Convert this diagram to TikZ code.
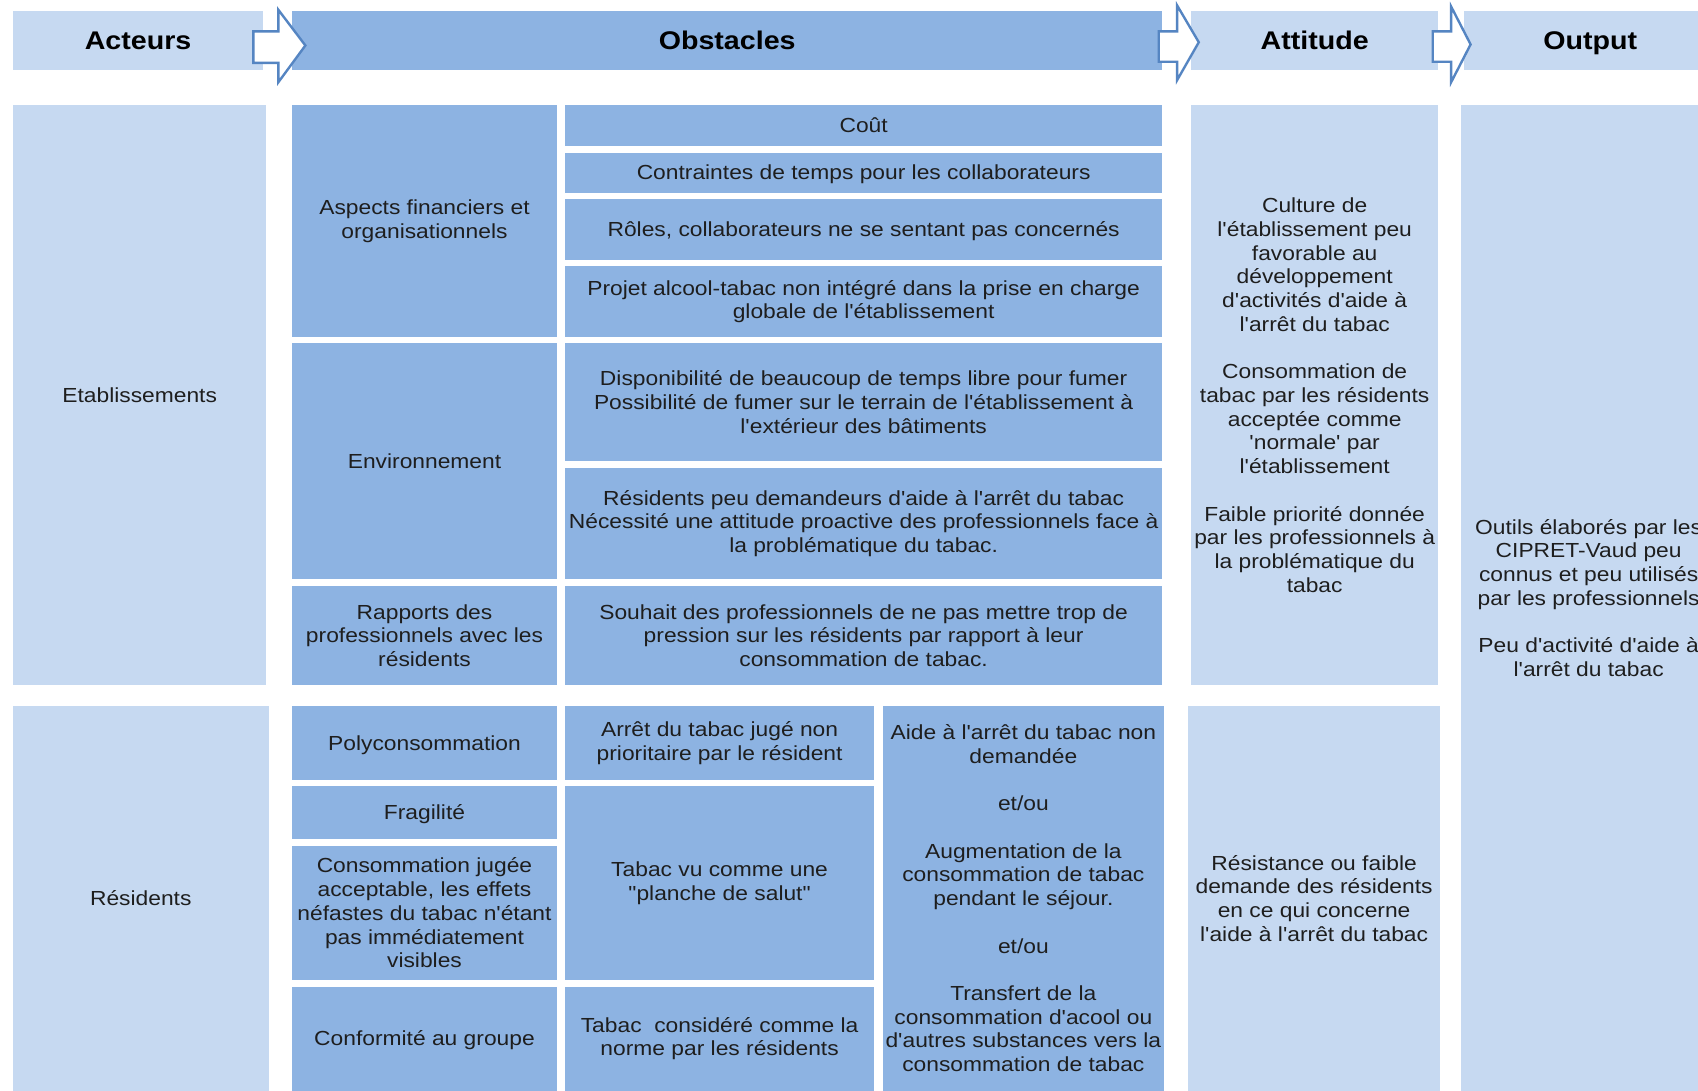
\documentclass[tikz,border=0pt]{standalone}
\usepackage{fontspec}
\setmainfont{Liberation Sans}[Ligatures=TeXOff,FakeStretch=1.12]
\definecolor{lightb}{HTML}{C6D9F1}
\definecolor{darkb}{HTML}{8DB3E2}
\definecolor{arrowc}{HTML}{5585C2}
\definecolor{textc}{HTML}{1E1E1E}
\newcommand\mybox[8][txt]{%
  \fill[#3] (#4,#5) rectangle (#6,#7);
  \node[#1] (#2) at ({(#4+#6)/2},{(#5+#7)/2}) {#8};}
\newcommand\gap{\\[10.95pt]}
\begin{document}
\begin{tikzpicture}[x=0.5pt,y=-0.5pt,
  txt/.style={font=\fontsize{9.4}{10.95}\selectfont, align=center, text=textc, inner sep=0pt},
  one/.style={txt, text height=8.6pt, text depth=2pt},
  hdr/.style={font=\fontsize{11.8}{14}\selectfont\bfseries, align=center, text=black, inner sep=0pt, text height=10.5pt, text depth=2.4pt},
  arr/.style={fill=white, draw=arrowc, line width=1.1pt, line join=miter}]
\useasboundingbox (0,0) rectangle (1568,1007);
\clip (0,0) rectangle (1568,1007);
\fill[white] (0,0) rectangle (1568,1007);
% header
\mybox[hdr]{hA}{lightb}{12}{10}{243}{65}{Acteurs}
\mybox[hdr]{hO}{darkb}{270}{10}{1073}{65}{Obstacles}
\mybox[hdr]{hT}{lightb}{1100}{10}{1328}{65}{Attitude}
\mybox[hdr]{hU}{lightb}{1352}{10}{1585}{65}{Output}
\draw[arr] (234,29) -- (257,29) -- (257,9) -- (282,42) -- (257,76) -- (257,58) -- (234,58) -- cycle;
\draw[arr] (1070,29) -- (1087,29) -- (1087,5) -- (1107,39) -- (1087,74) -- (1087,57) -- (1070,57) -- cycle;
\draw[arr] (1323,29) -- (1340,29) -- (1340,6) -- (1358,41) -- (1340,76) -- (1340,57) -- (1323,57) -- cycle;
% row 1
\mybox[one]{aE}{lightb}{12}{97}{246}{633}{Etablissements}
\mybox{o1}{darkb}{270}{97}{514}{311}{Aspects financiers et\\organisationnels}
\mybox[one]{o2}{darkb}{270}{317}{514}{535}{Environnement}
\mybox{o3}{darkb}{270}{541}{514}{633}{Rapports des\\professionnels avec les\\résidents}
\mybox[one]{c1}{darkb}{522}{97}{1073}{135}{Coût}
\mybox[one]{c2}{darkb}{522}{141}{1073}{178}{Contraintes de temps pour les collaborateurs}
\mybox[one]{c3}{darkb}{522}{184}{1073}{240}{Rôles, collaborateurs ne se sentant pas concernés}
\mybox{c4}{darkb}{522}{246}{1073}{311}{Projet alcool-tabac non intégré dans la prise en charge\\globale de l'établissement}
\mybox{c5}{darkb}{522}{317}{1073}{426}{Disponibilité de beaucoup de temps libre pour fumer\\Possibilité de fumer sur le terrain de l'établissement à\\l'extérieur des bâtiments}
\mybox{c6}{darkb}{522}{432}{1073}{535}{Résidents peu demandeurs d'aide à l'arrêt du tabac\\Nécessité une attitude proactive des professionnels face à\\la problématique du tabac.}
\mybox{c7}{darkb}{522}{541}{1073}{633}{Souhait des professionnels de ne pas mettre trop de\\pression sur les résidents par rapport à leur\\consommation de tabac.}
\mybox{tE}{lightb}{1100}{97}{1328}{633}{Culture de\\l'établissement peu\\favorable au\\développement\\d'activités d'aide à\\l'arrêt du tabac\gap Consommation de\\tabac par les résidents\\acceptée comme\\'normale' par\\l'établissement\gap Faible priorité donnée\\par les professionnels à\\la problématique du\\tabac}
\mybox{out}{lightb}{1349}{97}{1585}{1007}{Outils élaborés par les\\CIPRET-Vaud peu\\connus et peu utilisés\\par les professionnels\gap Peu d'activité d'aide à\\l'arrêt du tabac}
% row 2
\mybox[one]{aR}{lightb}{12}{652}{248}{1007}{Résidents}
\mybox[one]{p1}{darkb}{270}{652}{514}{720}{Polyconsommation}
\mybox[one]{p2}{darkb}{270}{726}{514}{775}{Fragilité}
\mybox{p3}{darkb}{270}{781}{514}{905}{Consommation jugée\\acceptable, les effets\\néfastes du tabac n'étant\\pas immédiatement\\visibles}
\mybox[one]{p4}{darkb}{270}{911}{514}{1007}{Conformité au groupe}
\mybox{q1}{darkb}{522}{652}{807}{720}{Arrêt du tabac jugé non\\prioritaire par le résident}
\mybox{q2}{darkb}{522}{726}{807}{905}{Tabac vu comme une\\"planche de salut"}
\mybox{q3}{darkb}{522}{911}{807}{1007}{Tabac\ \ considéré comme la\\norme par les résidents}
\mybox{r1}{darkb}{815}{652}{1075}{1007}{Aide à l'arrêt du tabac non\\demandée\gap et/ou\gap Augmentation de la\\consommation de tabac\\pendant le séjour.\gap et/ou\gap Transfert de la\\consommation d'acool ou\\d'autres substances vers la\\consommation de tabac}
\mybox{tR}{lightb}{1097}{652}{1330}{1007}{Résistance ou faible\\demande des résidents\\en ce qui concerne\\l'aide à l'arrêt du tabac}
\end{tikzpicture}
\end{document}
